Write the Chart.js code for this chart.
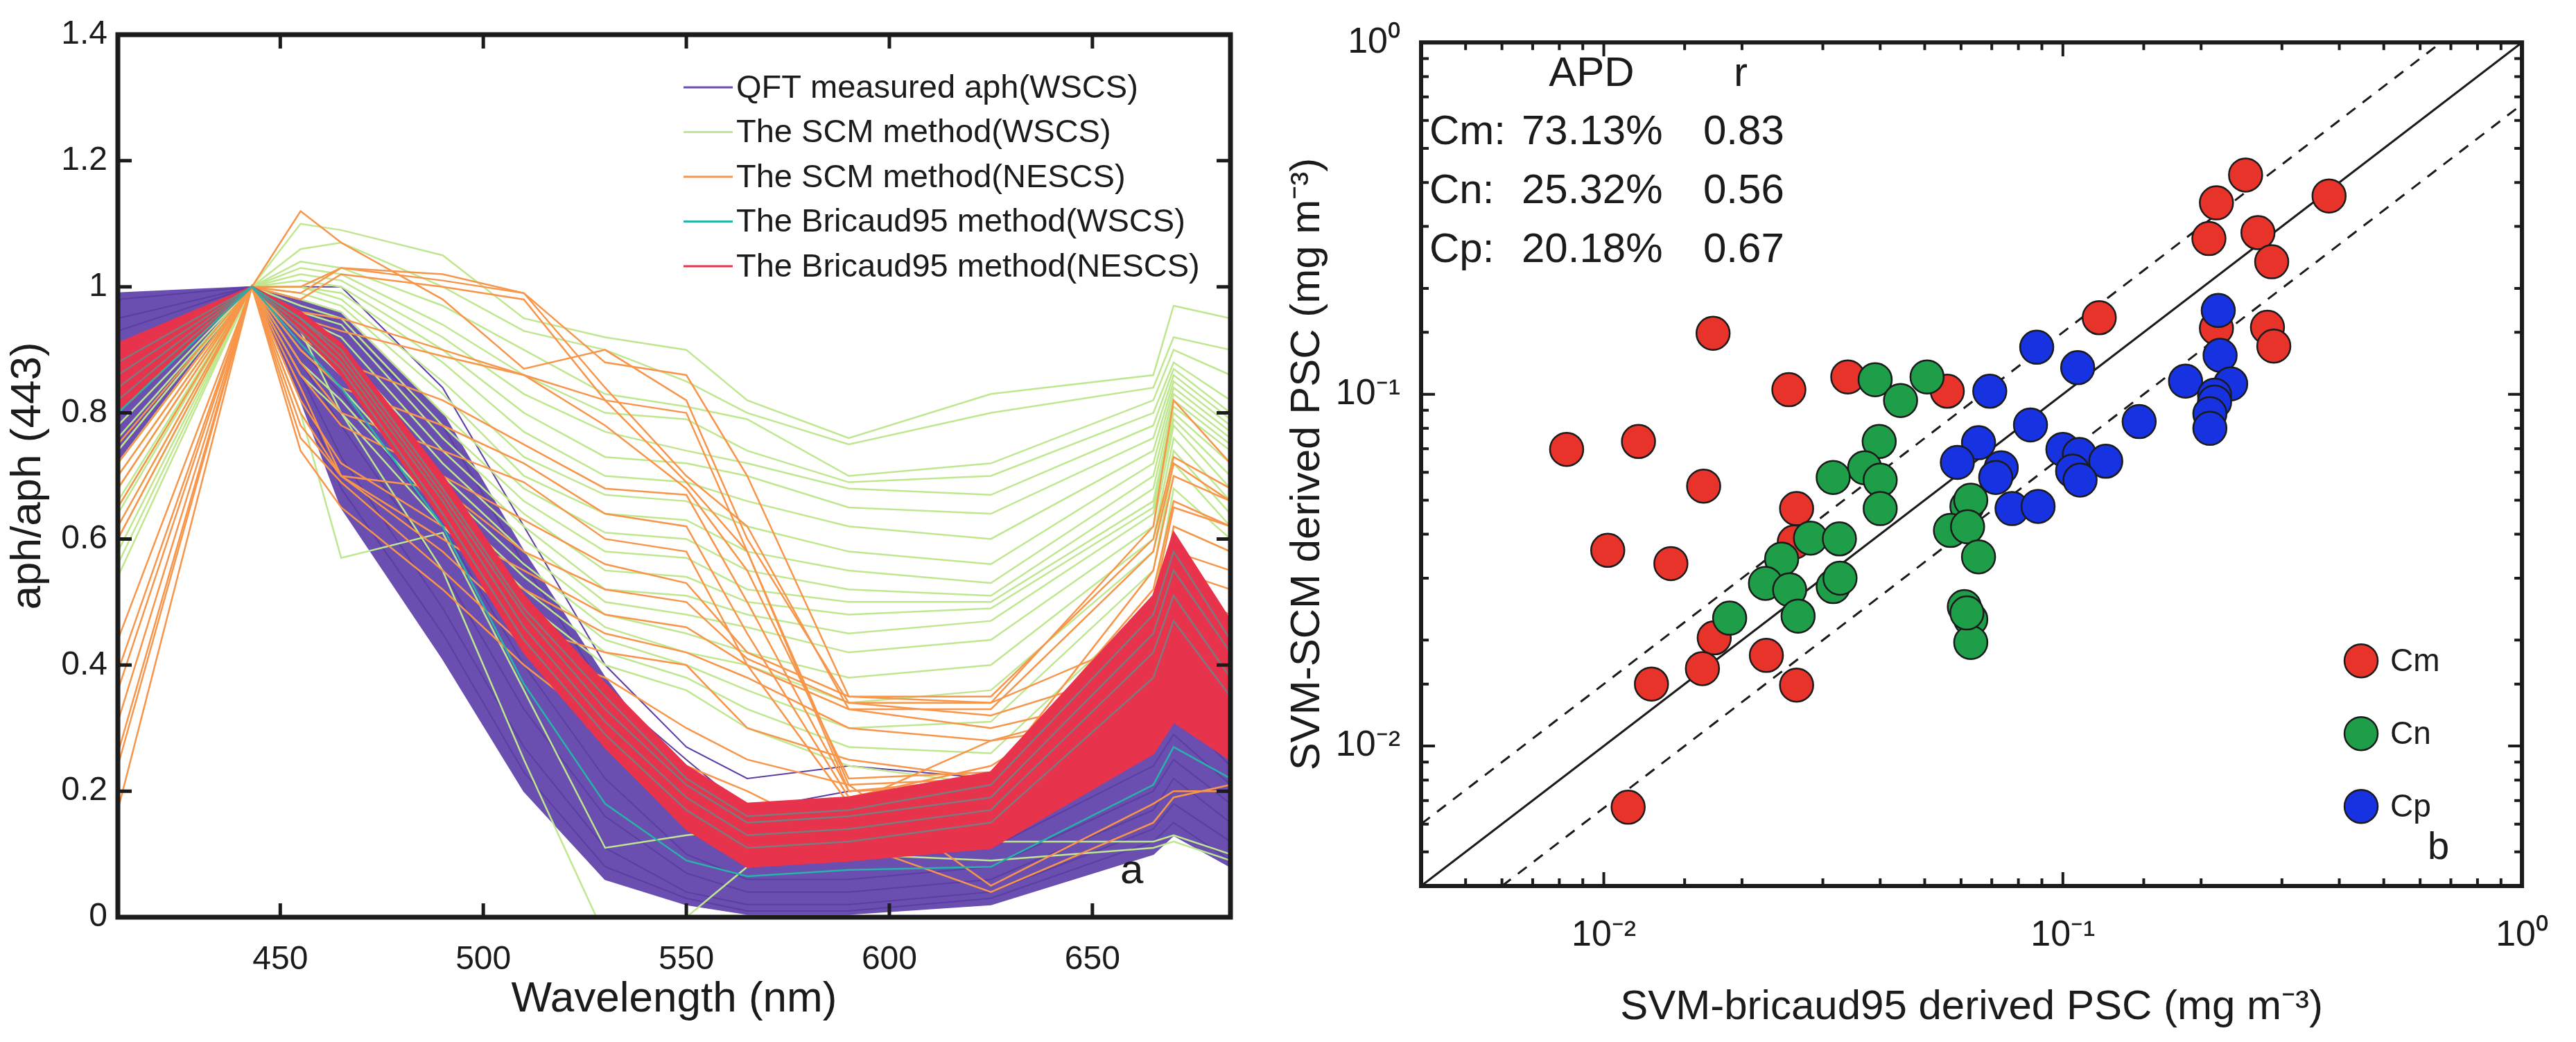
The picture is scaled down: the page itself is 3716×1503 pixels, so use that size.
<!DOCTYPE html>
<html>
<head>
<meta charset="utf-8">
<script src="https://cdn.jsdelivr.net/npm/chart.js@4.4.0/dist/chart.umd.min.js"></script>
<style>
  html, body { margin: 0; padding: 0; background: #fff; }
  #wrap { position: relative; width: 3716px; height: 1503px; }
  #c1 { position: absolute; left: 0; top: 0; }
  #c2 { position: absolute; left: 1850px; top: 0; }
</style>
</head>
<body>
<div id="wrap">
  <canvas id="c1" width="1830" height="1503"></canvas>
  <canvas id="c2" width="1866" height="1503"></canvas>
</div>
<script>
// ---- panel a: normalised absorption spectra ----
const waveLengths = [410, 443, 455, 465, 490, 510, 530, 550, 565, 590, 625, 665, 670, 684];
const waveTicks = [450, 500, 550, 600, 650];
const aphTicks = [0, 0.2, 0.4, 0.6, 0.8, 1, 1.2, 1.4];

// QFT measured aph (WSCS): dense band edges plus a few visible curves
const qftUpper = [0.99, 1.00, 0.98, 0.96, 0.80, 0.58, 0.38, 0.21, 0.14, 0.14, 0.16, 0.28, 0.33, 0.26];
const qftLower = [0.72, 1.00, 0.82, 0.65, 0.41, 0.20, 0.06, 0.02, 0.005, 0.005, 0.02, 0.10, 0.13, 0.08];
const qftLines = [
  [0.98, 1.00, 1.00, 1.00, 0.84, 0.62, 0.40, 0.27, 0.22, 0.24, 0.22, 0.30, 0.34, 0.27],
  [0.95, 1.00, 0.97, 0.94, 0.78, 0.56, 0.36, 0.25, 0.17, 0.20, 0.21, 0.29, 0.33, 0.24],
  [0.93, 1.00, 0.93, 0.88, 0.70, 0.48, 0.30, 0.15, 0.09, 0.09, 0.11, 0.24, 0.29, 0.21],
  [0.88, 1.00, 0.90, 0.83, 0.62, 0.40, 0.22, 0.10, 0.06, 0.06, 0.08, 0.20, 0.25, 0.18],
  [0.84, 1.00, 0.88, 0.78, 0.55, 0.33, 0.16, 0.07, 0.04, 0.04, 0.06, 0.17, 0.22, 0.15],
  [0.80, 1.00, 0.86, 0.73, 0.49, 0.27, 0.11, 0.04, 0.02, 0.02, 0.04, 0.14, 0.18, 0.12],
  [0.76, 1.00, 0.84, 0.68, 0.45, 0.23, 0.08, 0.03, 0.01, 0.01, 0.03, 0.12, 0.15, 0.09]
];

// The SCM method (WSCS)
const scmWscs = [
  [0.90, 1, 1.10, 1.09, 1.05, 0.95, 0.92, 0.90, 0.82, 0.76, 0.83, 0.86, 0.97, 0.95],
  [0.88, 1, 1.06, 1.07, 1.00, 0.93, 0.90, 0.85, 0.80, 0.75, 0.80, 0.84, 0.92, 0.90],
  [0.86, 1, 1.04, 1.03, 0.97, 0.90, 0.83, 0.81, 0.79, 0.70, 0.72, 0.82, 0.90, 0.86],
  [0.84, 1, 1.03, 1.02, 0.94, 0.86, 0.80, 0.79, 0.74, 0.69, 0.70, 0.80, 0.88, 0.82],
  [0.82, 1, 1.02, 1.01, 0.92, 0.83, 0.77, 0.74, 0.72, 0.68, 0.67, 0.78, 0.87, 0.80],
  [0.80, 1, 1.01, 1.00, 0.90, 0.80, 0.73, 0.72, 0.70, 0.65, 0.64, 0.76, 0.86, 0.79],
  [0.78, 1, 1.00, 0.99, 0.88, 0.77, 0.70, 0.69, 0.66, 0.62, 0.60, 0.74, 0.85, 0.78],
  [0.76, 1, 1.00, 0.98, 0.85, 0.73, 0.67, 0.66, 0.62, 0.58, 0.56, 0.72, 0.84, 0.77],
  [0.74, 1, 0.99, 0.97, 0.83, 0.70, 0.64, 0.63, 0.58, 0.55, 0.53, 0.70, 0.83, 0.76],
  [0.72, 1, 0.98, 0.96, 0.80, 0.68, 0.61, 0.60, 0.55, 0.52, 0.51, 0.68, 0.82, 0.75],
  [0.70, 1, 0.97, 0.95, 0.78, 0.66, 0.58, 0.57, 0.52, 0.50, 0.50, 0.66, 0.81, 0.74],
  [0.68, 1, 0.96, 0.94, 0.76, 0.64, 0.55, 0.54, 0.50, 0.48, 0.49, 0.65, 0.80, 0.72],
  [0.66, 1, 0.95, 0.92, 0.74, 0.62, 0.52, 0.51, 0.48, 0.45, 0.47, 0.64, 0.79, 0.70],
  [0.64, 1, 0.94, 0.90, 0.72, 0.60, 0.50, 0.48, 0.46, 0.42, 0.44, 0.62, 0.78, 0.68],
  [0.62, 1, 0.93, 0.88, 0.70, 0.58, 0.48, 0.45, 0.42, 0.38, 0.40, 0.60, 0.76, 0.66],
  [0.60, 1, 0.92, 0.86, 0.68, 0.56, 0.46, 0.42, 0.40, 0.34, 0.36, 0.58, 0.74, 0.64],
  [0.58, 1, 0.90, 0.84, 0.66, 0.54, 0.44, 0.40, 0.36, 0.30, 0.31, 0.55, 0.72, 0.62],
  [0.56, 1, 0.88, 0.82, 0.64, 0.52, 0.42, 0.38, 0.33, 0.27, 0.26, 0.50, 0.68, 0.60],
  [0.54, 1, 0.86, 0.80, 0.62, 0.50, 0.40, 0.36, 0.30, 0.24, 0.21, 0.45, 0.62, 0.58],
  [0.72, 1, 0.80, 0.57, 0.61, 0.36, 0.11, 0.13, 0.14, 0.15, 0.12, 0.12, 0.13, 0.10],
  [0.65, 1, 0.93, 0.80, 0.55, 0.25, -0.03, 0.00, 0.08, 0.10, 0.09, 0.11, 0.12, 0.09]
];

// The SCM method (NESCS)
const scmNescs = [
  [0.88, 1, 1.12, 1.07, 0.98, 0.87, 0.90, 0.82, 0.60, 0.34, 0.34, 0.62, 0.82, 0.72],
  [0.75, 1, 1.00, 1.03, 1.02, 0.99, 0.88, 0.86, 0.70, 0.35, 0.35, 0.60, 0.73, 0.68],
  [0.72, 1, 0.99, 1.03, 1.01, 0.99, 0.84, 0.70, 0.62, 0.33, 0.33, 0.58, 0.72, 0.66],
  [0.70, 1, 0.98, 1.02, 1.00, 0.98, 0.82, 0.69, 0.58, 0.21, 0.22, 0.55, 0.70, 0.66],
  [0.68, 1, 0.95, 0.93, 0.89, 0.86, 0.78, 0.68, 0.55, 0.22, 0.23, 0.50, 0.65, 0.62],
  [0.65, 1, 0.92, 0.88, 0.82, 0.75, 0.68, 0.67, 0.50, 0.20, 0.21, 0.45, 0.62, 0.58],
  [0.62, 1, 0.90, 0.84, 0.78, 0.72, 0.64, 0.62, 0.45, 0.19, 0.24, 0.40, 0.58, 0.55],
  [0.60, 1, 0.88, 0.80, 0.74, 0.69, 0.60, 0.58, 0.40, 0.18, 0.28, 0.35, 0.55, 0.52],
  [0.44, 1, 0.86, 0.78, 0.70, 0.63, 0.56, 0.53, 0.42, 0.35, 0.34, 0.45, 0.52, 0.48],
  [0.39, 1, 0.84, 0.70, 0.68, 0.58, 0.52, 0.50, 0.41, 0.34, 0.32, 0.40, 0.48, 0.44],
  [0.36, 1, 0.82, 0.72, 0.62, 0.55, 0.48, 0.46, 0.40, 0.33, 0.30, 0.36, 0.45, 0.40],
  [0.31, 1, 0.80, 0.70, 0.60, 0.52, 0.45, 0.42, 0.38, 0.30, 0.28, 0.32, 0.40, 0.38],
  [0.26, 1, 0.78, 0.70, 0.58, 0.46, 0.42, 0.40, 0.30, 0.25, 0.22, 0.30, 0.35, 0.32],
  [0.24, 1, 0.76, 0.69, 0.55, 0.43, 0.38, 0.30, 0.25, 0.21, 0.05, 0.18, 0.20, 0.20],
  [0.17, 1, 0.74, 0.65, 0.52, 0.40, 0.30, 0.24, 0.20, 0.12, 0.04, 0.15, 0.19, 0.21],
  [0.80, 1, 0.96, 0.95, 0.90, 0.86, 0.82, 0.80, 0.58, 0.20, 0.22, 0.52, 0.66, 0.62]
];

// The Bricaud95 method (WSCS)
const briWscs = [
  [0.80, 1, 0.91, 0.84, 0.62, 0.37, 0.18, 0.09, 0.065, 0.075, 0.08, 0.21, 0.27, 0.22],
  [0.82, 1, 0.93, 0.87, 0.64, 0.44, 0.29, 0.17, 0.11, 0.12, 0.15, 0.38, 0.47, 0.35],
  [0.84, 1, 0.94, 0.88, 0.66, 0.46, 0.31, 0.19, 0.13, 0.14, 0.17, 0.42, 0.51, 0.38],
  [0.86, 1, 0.95, 0.89, 0.67, 0.48, 0.33, 0.21, 0.15, 0.16, 0.19, 0.45, 0.55, 0.42],
  [0.88, 1, 0.95, 0.90, 0.68, 0.49, 0.35, 0.22, 0.16, 0.17, 0.21, 0.48, 0.58, 0.44]
];

// The Bricaud95 method (NESCS): dense band edges
const briNescsUpper = [0.91, 1.00, 0.96, 0.91, 0.70, 0.51, 0.37, 0.24, 0.18, 0.19, 0.23, 0.51, 0.61, 0.47];
const briNescsLower = [0.80, 1.00, 0.93, 0.86, 0.63, 0.42, 0.27, 0.14, 0.08, 0.09, 0.11, 0.26, 0.31, 0.25];

const legendNames = [
  "QFT measured aph(WSCS)",
  "The SCM method(WSCS)",
  "The SCM method(NESCS)",
  "The Bricaud95 method(WSCS)",
  "The Bricaud95 method(NESCS)"
];

// ---- panel b: PSC scatter ----
const cmX = [0.25, 0.38, 0.216, 0.208, 0.266, 0.285, 0.12, 0.216, 0.279, 0.288, 0.0173, 0.034, 0.0253, 0.056, 0.0083, 0.0119, 0.0165, 0.0263, 0.026, 0.0102, 0.014, 0.0174, 0.0164, 0.0226, 0.0127, 0.0263, 0.0113];
const cmY = [0.42, 0.366, 0.35, 0.277, 0.288, 0.238, 0.165, 0.154, 0.155, 0.137, 0.149, 0.112, 0.103, 0.102, 0.0697, 0.0734, 0.0548, 0.0473, 0.038, 0.036, 0.033, 0.0203, 0.0166, 0.0181, 0.015, 0.0149, 0.0067];
const cnX = [0.039, 0.0506, 0.0443, 0.0398, 0.037, 0.040, 0.0316, 0.040, 0.0282, 0.0326, 0.0244, 0.0225, 0.0254, 0.0265, 0.0316, 0.0327, 0.0188, 0.0618, 0.063, 0.0569, 0.062, 0.0655, 0.061, 0.063, 0.063, 0.0618];
const cnY = [0.11, 0.112, 0.096, 0.0734, 0.0618, 0.057, 0.058, 0.0473, 0.039, 0.0388, 0.034, 0.029, 0.0278, 0.0234, 0.0284, 0.030, 0.0231, 0.048, 0.050, 0.041, 0.042, 0.0345, 0.0249, 0.0229, 0.0197, 0.0239];
const cpX = [0.218, 0.22, 0.185, 0.232, 0.214, 0.214, 0.209, 0.209, 0.0877, 0.1077, 0.0693, 0.085, 0.0655, 0.0589, 0.0734, 0.0714, 0.1, 0.1086, 0.124, 0.105, 0.109, 0.1466, 0.0775, 0.0883];
const cpY = [0.173, 0.129, 0.109, 0.107, 0.0994, 0.095, 0.088, 0.080, 0.136, 0.119, 0.102, 0.0818, 0.0728, 0.064, 0.0618, 0.058, 0.0697, 0.0674, 0.0645, 0.0605, 0.057, 0.0836, 0.0473, 0.048];
const pscRange = [0.004, 1];
const bandFactor = 1.5;

const statClasses = ["Cm:", "Cn:", "Cp:"];
const apdValues = ["73.13%", "25.32%", "20.18%"];
const rValues = ["0.83", "0.56", "0.67"];

const FONT = '"Liberation Sans", Arial, Helvetica, sans-serif';
const INK = "#1b1b1b";
const PURPLE = "#6a4fb1";
const GREEN = "#bfe78f";
const ORANGE = "#f7964b";
const TEAL = "#27b3a8";
const RED = "#e8334d";

Chart.defaults.font.family = FONT;
Chart.defaults.color = INK;

// inward MATLAB-style ticks and the box round the axes
const frameTicks = {
  id: "frameTicks",
  afterDatasetsDraw(chart, args, opts) {
    const { ctx, chartArea: a, scales } = chart;
    const isMajor = v => !opts.log || Math.abs(Math.log10(v) - Math.round(Math.log10(v))) < 1e-6;
    ctx.save();
    ctx.strokeStyle = INK;
    ctx.lineWidth = opts.tickWidth;
    ctx.beginPath();
    scales.x.ticks.forEach(t => {
      const px = scales.x.getPixelForValue(t.value);
      const len = isMajor(t.value) ? opts.major : opts.minor;
      ctx.moveTo(px, a.bottom); ctx.lineTo(px, a.bottom - len);
      ctx.moveTo(px, a.top); ctx.lineTo(px, a.top + len);
    });
    scales.y.ticks.forEach(t => {
      const py = scales.y.getPixelForValue(t.value);
      const len = isMajor(t.value) ? opts.major : opts.minor;
      ctx.moveTo(a.left, py); ctx.lineTo(a.left + len, py);
      ctx.moveTo(a.right, py); ctx.lineTo(a.right - len, py);
    });
    ctx.stroke();
    ctx.lineWidth = opts.frameWidth;
    ctx.strokeRect(a.left, a.top, a.right - a.left, a.bottom - a.top);
    ctx.restore();
  }
};

const spectraLegend = {
  id: "spectraLegend",
  afterDraw(chart) {
    const { ctx, chartArea: a } = chart;
    const colors = [PURPLE, GREEN, ORANGE, TEAL, RED];
    ctx.save();
    ctx.font = "47px " + FONT;
    ctx.textBaseline = "middle";
    ctx.fillStyle = INK;
    legendNames.forEach((name, i) => {
      const y = a.top + 76 + i * 64.5;
      ctx.strokeStyle = colors[i];
      ctx.lineWidth = 3;
      ctx.beginPath();
      ctx.moveTo(a.left + 816, y);
      ctx.lineTo(a.left + 887, y);
      ctx.stroke();
      ctx.fillText(name, a.left + 892, y + 2);
    });
    ctx.font = "60px " + FONT;
    ctx.fillText("a", a.left + 1446, a.bottom - 66);
    ctx.restore();
  }
};

const pscNotes = {
  id: "pscNotes",
  afterDraw(chart) {
    const { ctx, chartArea: a } = chart;
    const cols = [PSC_COLORS.cm, PSC_COLORS.cn, PSC_COLORS.cp];
    const names = ["Cm", "Cn", "Cp"];
    ctx.save();
    ctx.fillStyle = INK;
    ctx.font = "60px " + FONT;
    ctx.textBaseline = "middle";
    ctx.textAlign = "center";
    ctx.fillText("APD", a.left + 246, a.top + 46);
    ctx.fillText("r", a.left + 461, a.top + 46);
    ctx.textAlign = "left";
    statClasses.forEach((c, i) => {
      const y = a.top + 130 + i * 85;
      ctx.fillText(c, a.left + 12, y);
      ctx.fillText(apdValues[i], a.left + 145, y);
      ctx.fillText(rValues[i], a.left + 407, y);
    });
    ctx.font = "46px " + FONT;
    names.forEach((n, i) => {
      const y = a.top + 892 + i * 105;
      ctx.beginPath();
      ctx.arc(a.left + 1356, y, 24, 0, Math.PI * 2);
      ctx.fillStyle = cols[i];
      ctx.fill();
      ctx.lineWidth = 2.5;
      ctx.strokeStyle = INK;
      ctx.stroke();
      ctx.fillStyle = INK;
      ctx.fillText(n, a.left + 1398, y + 2);
    });
    ctx.font = "56px " + FONT;
    ctx.fillText("b", a.left + 1452, a.top + 1162);
    ctx.restore();
  }
};

const PSC_COLORS = { cm: "#e8332b", cn: "#1f9e49", cp: "#1732e0" };

function pts(vals) {
  return vals.map((v, i) => ({ x: waveLengths[i], y: v }));
}

function lineSet(vals, color, width, order, extra) {
  return Object.assign({
    data: pts(vals),
    borderColor: color,
    borderWidth: width,
    pointRadius: 0,
    tension: 0,
    fill: false,
    order: order,
    clip: 3
  }, extra || {});
}

const spectraSets = [];
spectraSets.push(lineSet(qftUpper, PURPLE, 2, 60, { fill: "+1", backgroundColor: PURPLE }));
spectraSets.push(lineSet(qftLower, PURPLE, 2, 60));
qftLines.forEach(v => spectraSets.push(lineSet(v, "#5a3ea3", 2, 55)));
scmWscs.forEach(v => spectraSets.push(lineSet(v, GREEN, 2.5, 40)));
scmNescs.forEach(v => spectraSets.push(lineSet(v, ORANGE, 2.5, 30)));
spectraSets.push(lineSet(briNescsUpper, RED, 3, 20, { fill: "+1", backgroundColor: RED }));
spectraSets.push(lineSet(briNescsLower, RED, 3, 20));
briWscs.forEach((v, i) => spectraSets.push(lineSet(v, i === 0 ? TEAL : "rgba(39,179,168,0.55)", 2.5, 10)));

new Chart(document.getElementById("c1"), {
  type: "line",
  data: { datasets: spectraSets },
  options: {
    responsive: false,
    devicePixelRatio: 1,
    animation: false,
    events: [],
    layout: { padding: { top: 50, right: 55, left: 0, bottom: 0 } },
    plugins: {
      legend: { display: false },
      tooltip: { enabled: false },
      frameTicks: { tickWidth: 5, major: 20, minor: 20, frameWidth: 7, log: false }
    },
    scales: {
      x: {
        type: "linear",
        min: 410,
        max: 684,
        afterBuildTicks: s => { s.ticks = waveTicks.map(v => ({ value: v })); },
        afterFit: s => { s.height = 180; },
        grid: { display: false, drawTicks: false },
        border: { display: false },
        ticks: { padding: 33, font: { size: 48 }, color: INK, maxRotation: 0 },
        title: { display: true, text: "Wavelength (nm)", font: { size: 62 }, color: INK, padding: { top: 0, bottom: 24 } }
      },
      y: {
        min: 0,
        max: 1.4,
        afterBuildTicks: s => { s.ticks = aphTicks.map(v => ({ value: v })); },
        afterFit: s => { s.width = 170; },
        grid: { display: false, drawTicks: false },
        border: { display: false },
        ticks: { padding: 15, font: { size: 48 }, color: INK, callback: v => String(+v.toFixed(1)) },
        title: { display: true, text: "aph/aph (443)", font: { size: 62 }, color: INK, padding: { top: 4, bottom: 0 } }
      }
    }
  },
  plugins: [frameTicks, spectraLegend]
});

// ---- panel b ----
const SUP = { "-": "\u207B", "0": "\u2070", "1": "\u00B9", "2": "\u00B2", "3": "\u00B3" };
function powerLabel(v) {
  const e = Math.log10(v);
  if (Math.abs(e - Math.round(e)) > 1e-6) return "";
  return "10" + String(Math.round(e)).split("").map(ch => SUP[ch]).join("");
}

function xy(xs, ys) {
  return xs.map((x, i) => ({ x: x, y: ys[i] }));
}

const lo = pscRange[0], hi = pscRange[1];
const refLines = [
  { data: [{ x: lo, y: lo }, { x: hi, y: hi }], dash: [] },
  { data: [{ x: lo, y: lo * bandFactor }, { x: hi / bandFactor, y: hi }], dash: [16, 13] },
  { data: [{ x: lo * bandFactor, y: lo }, { x: hi, y: hi / bandFactor }], dash: [16, 13] }
];

const pscSets = [
  { label: "Cm", data: xy(cmX, cmY), backgroundColor: PSC_COLORS.cm, order: 3 },
  { label: "Cn", data: xy(cnX, cnY), backgroundColor: PSC_COLORS.cn, order: 2 },
  { label: "Cp", data: xy(cpX, cpY), backgroundColor: PSC_COLORS.cp, order: 1 }
].map(d => Object.assign(d, { pointRadius: 24, borderColor: INK, borderWidth: 2.5, pointHoverRadius: 24 }));

refLines.forEach(r => pscSets.push({
  type: "line",
  data: r.data,
  borderColor: INK,
  borderWidth: 3,
  borderDash: r.dash,
  pointRadius: 0,
  fill: false,
  order: 10
}));

new Chart(document.getElementById("c2"), {
  type: "scatter",
  data: { datasets: pscSets },
  options: {
    responsive: false,
    devicePixelRatio: 1,
    animation: false,
    events: [],
    layout: { padding: { top: 52, right: 63, left: 0, bottom: 0 } },
    plugins: {
      legend: { display: false },
      tooltip: { enabled: false },
      frameTicks: { tickWidth: 4, major: 20, minor: 11, frameWidth: 6, log: true }
    },
    scales: {
      x: {
        type: "logarithmic",
        min: lo,
        max: hi,
        afterFit: s => { s.height = 225; },
        grid: { display: false, drawTicks: false },
        border: { display: false },
        ticks: { padding: 40, autoSkip: false, maxRotation: 0, font: { size: 52 }, color: INK, callback: v => powerLabel(v) },
        title: { display: true, text: "SVM-bricaud95 derived PSC (mg m\u207B\u00B3)", font: { size: 60 }, color: INK, padding: { top: 0, bottom: 14 } }
      },
      y: {
        type: "logarithmic",
        min: lo,
        max: hi,
        afterFit: s => { s.width = 200; },
        grid: { display: false, drawTicks: false },
        border: { display: false },
        ticks: { padding: 30, autoSkip: false, font: { size: 52 }, color: INK, callback: v => powerLabel(v) },
        title: { display: true, text: "SVM-SCM derived PSC (mg m\u207B\u00B3)", font: { size: 60 }, color: INK, padding: { top: 0, bottom: 0 } }
      }
    }
  },
  plugins: [frameTicks, pscNotes]
});
</script>
</body>
</html>
